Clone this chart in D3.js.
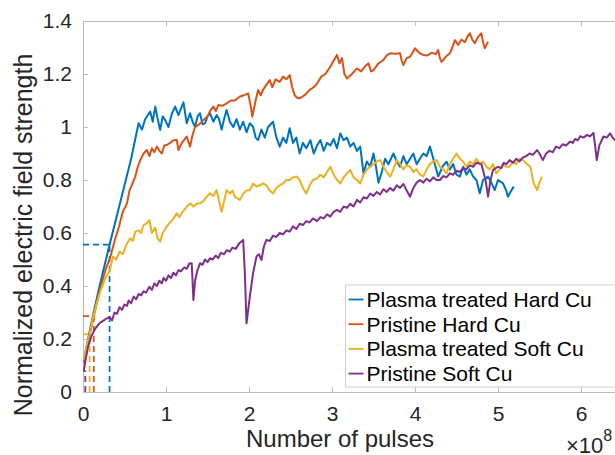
<!DOCTYPE html>
<html>
<head>
<meta charset="utf-8">
<script src="https://cdn.jsdelivr.net/npm/d3@7"></script>
<style>
  html, body { margin: 0; padding: 0; background: #fff; overflow: hidden; }
  text { font-family: "Liberation Sans", Arial, Helvetica, sans-serif; }
</style>
</head>
<body>
<svg id="chart"></svg>
<script>
// x in units of 1e8 pulses, y = normalized electric field strength
const plasmaHard = [[0.01,0.12],[0.1,0.26],[0.2,0.40],[0.32,0.556],[0.42,0.68],[0.5,0.78],[0.58,0.88],[0.64,0.97],[0.67,1.014],[0.71,0.99],[0.75,1.03],[0.81,1.058],[0.84,1.02],[0.87,1.077],[0.9,1.03],[0.93,0.989],[0.96,1.04],[0.99,1.026],[1.03,1.0],[1.07,1.05],[1.11,1.077],[1.15,1.045],[1.21,1.093],[1.25,1.014],[1.29,1.052],[1.32,1.02],[1.35,1.0],[1.38,1.04],[1.41,1.052],[1.44,1.01],[1.47,1.014],[1.5,1.04],[1.53,1.052],[1.57,1.02],[1.61,1.045],[1.64,1.03],[1.67,0.99],[1.7,1.03],[1.73,1.064],[1.77,1.02],[1.81,1.0],[1.85,1.03],[1.89,0.99],[1.93,1.02],[1.97,0.98],[2.01,1.014],[2.05,1.0],[2.08,0.96],[2.11,0.951],[2.15,0.99],[2.19,0.96],[2.23,1.0],[2.29,1.02],[2.33,0.96],[2.37,0.926],[2.41,0.96],[2.45,0.94],[2.49,0.995],[2.53,0.94],[2.57,0.96],[2.61,0.9],[2.65,0.94],[2.69,0.92],[2.74,0.95],[2.78,0.9],[2.82,0.93],[2.86,0.951],[2.9,0.91],[2.94,0.94],[2.98,0.93],[3.02,0.955],[3.06,0.92],[3.1,0.976],[3.14,0.95],[3.18,0.96],[3.22,0.926],[3.26,0.94],[3.3,0.91],[3.34,0.926],[3.38,0.825],[3.42,0.87],[3.46,0.85],[3.5,0.9],[3.53,0.85],[3.56,0.79],[3.6,0.83],[3.64,0.88],[3.68,0.86],[3.74,0.9],[3.78,0.87],[3.82,0.85],[3.86,0.89],[3.9,0.86],[3.94,0.88],[3.98,0.9],[4.02,0.86],[4.06,0.88],[4.1,0.9],[4.14,0.89],[4.18,0.926],[4.23,0.87],[4.28,0.813],[4.33,0.85],[4.38,0.869],[4.42,0.84],[4.46,0.86],[4.5,0.82],[4.54,0.813],[4.58,0.85],[4.62,0.82],[4.66,0.84],[4.7,0.813],[4.74,0.8],[4.78,0.75],[4.82,0.8],[4.88,0.813],[4.92,0.79],[4.96,0.762],[5.0,0.8],[5.06,0.787],[5.1,0.76],[5.12,0.737],[5.16,0.76],[5.19,0.775]];

const pristineHard = [[0.01,0.11],[0.07,0.2],[0.13,0.286],[0.2,0.38],[0.27,0.46],[0.33,0.51],[0.38,0.57],[0.43,0.62],[0.48,0.68],[0.53,0.712],[0.56,0.76],[0.6,0.79],[0.63,0.813],[0.66,0.85],[0.69,0.875],[0.73,0.9],[0.77,0.913],[0.8,0.89],[0.83,0.92],[0.86,0.905],[0.89,0.926],[0.92,0.91],[0.95,0.9],[0.98,0.93],[1.01,0.932],[1.05,0.94],[1.09,0.95],[1.13,0.951],[1.15,0.913],[1.19,0.94],[1.25,0.964],[1.29,0.926],[1.32,0.97],[1.35,1.0],[1.4,1.01],[1.45,1.026],[1.5,1.04],[1.53,1.06],[1.57,1.077],[1.6,1.06],[1.63,1.083],[1.68,1.08],[1.73,1.089],[1.78,1.1],[1.83,1.1],[1.89,1.115],[1.94,1.12],[1.99,1.127],[2.02,1.08],[2.04,1.039],[2.08,1.1],[2.11,1.14],[2.14,1.12],[2.17,1.14],[2.21,1.16],[2.25,1.177],[2.28,1.15],[2.32,1.18],[2.37,1.17],[2.41,1.19],[2.45,1.18],[2.49,1.196],[2.52,1.15],[2.55,1.12],[2.58,1.11],[2.61,1.108],[2.67,1.12],[2.73,1.14],[2.78,1.15],[2.82,1.164],[2.87,1.19],[2.92,1.2],[2.98,1.228],[3.02,1.25],[3.06,1.272],[3.09,1.24],[3.12,1.26],[3.15,1.2],[3.18,1.183],[3.24,1.2],[3.3,1.221],[3.35,1.21],[3.4,1.23],[3.44,1.24],[3.47,1.21],[3.5,1.215],[3.56,1.24],[3.62,1.253],[3.66,1.27],[3.7,1.278],[3.76,1.276],[3.82,1.278],[3.84,1.25],[3.86,1.234],[3.9,1.26],[3.94,1.265],[3.97,1.28],[4.0,1.297],[4.05,1.28],[4.1,1.272],[4.15,1.27],[4.2,1.28],[4.25,1.275],[4.28,1.29],[4.3,1.26],[4.32,1.246],[4.37,1.265],[4.42,1.278],[4.45,1.3],[4.48,1.328],[4.52,1.31],[4.56,1.33],[4.6,1.32],[4.63,1.34],[4.66,1.354],[4.69,1.33],[4.72,1.316],[4.76,1.34],[4.8,1.354],[4.82,1.32],[4.84,1.297],[4.86,1.31],[4.88,1.322]];

const plasmaSoft = [[0.01,0.12],[0.04,0.17],[0.08,0.218],[0.12,0.28],[0.17,0.34],[0.22,0.39],[0.27,0.43],[0.32,0.454],[0.36,0.51],[0.4,0.5],[0.44,0.53],[0.48,0.52],[0.53,0.561],[0.57,0.58],[0.6,0.57],[0.63,0.605],[0.67,0.61],[0.7,0.6],[0.73,0.63],[0.77,0.637],[0.8,0.649],[0.83,0.6],[0.87,0.62],[0.9,0.58],[0.93,0.567],[0.96,0.6],[1.0,0.62],[1.04,0.637],[1.08,0.65],[1.13,0.674],[1.16,0.66],[1.2,0.68],[1.25,0.699],[1.29,0.712],[1.33,0.7],[1.37,0.71],[1.41,0.712],[1.45,0.72],[1.49,0.737],[1.53,0.75],[1.57,0.74],[1.61,0.762],[1.64,0.72],[1.67,0.68],[1.7,0.72],[1.73,0.762],[1.77,0.749],[1.8,0.76],[1.83,0.737],[1.89,0.725],[1.93,0.749],[1.97,0.76],[2.01,0.762],[2.05,0.787],[2.09,0.775],[2.13,0.78],[2.17,0.787],[2.21,0.78],[2.25,0.76],[2.29,0.749],[2.33,0.77],[2.37,0.78],[2.41,0.787],[2.45,0.8],[2.49,0.8],[2.53,0.81],[2.57,0.813],[2.61,0.8],[2.65,0.77],[2.69,0.749],[2.73,0.78],[2.77,0.8],[2.82,0.806],[2.86,0.82],[2.9,0.81],[2.94,0.83],[2.98,0.85],[3.02,0.82],[3.06,0.8],[3.1,0.787],[3.14,0.81],[3.18,0.825],[3.22,0.838],[3.26,0.81],[3.3,0.8],[3.34,0.787],[3.38,0.82],[3.42,0.84],[3.46,0.85],[3.5,0.86],[3.54,0.87],[3.58,0.875],[3.62,0.85],[3.66,0.83],[3.7,0.813],[3.74,0.84],[3.78,0.875],[3.82,0.86],[3.86,0.84],[3.9,0.855],[3.94,0.85],[3.98,0.83],[4.02,0.84],[4.06,0.82],[4.1,0.813],[4.14,0.84],[4.18,0.86],[4.22,0.87],[4.26,0.875],[4.3,0.85],[4.34,0.84],[4.38,0.825],[4.42,0.86],[4.46,0.88],[4.5,0.9],[4.54,0.88],[4.58,0.87],[4.62,0.85],[4.66,0.87],[4.7,0.86],[4.74,0.88],[4.78,0.86],[4.82,0.87],[4.86,0.85],[4.9,0.84],[4.94,0.86],[4.98,0.825],[5.02,0.84],[5.06,0.86],[5.1,0.85],[5.14,0.85],[5.18,0.87],[5.22,0.86],[5.26,0.88],[5.3,0.875],[5.35,0.86],[5.39,0.85],[5.43,0.787],[5.47,0.762],[5.5,0.79],[5.53,0.813]];

const pristineSoft = [[0.01,0.08],[0.03,0.12],[0.06,0.17],[0.1,0.21],[0.15,0.24],[0.2,0.26],[0.25,0.27],[0.32,0.284],[0.35,0.27],[0.38,0.3],[0.41,0.295],[0.44,0.32],[0.47,0.31],[0.5,0.33],[0.53,0.325],[0.55,0.345],[0.58,0.335],[0.61,0.36],[0.64,0.35],[0.67,0.37],[0.7,0.365],[0.73,0.38],[0.76,0.375],[0.8,0.397],[0.83,0.385],[0.86,0.41],[0.89,0.4],[0.92,0.42],[0.95,0.41],[0.97,0.43],[1.0,0.42],[1.03,0.44],[1.06,0.43],[1.09,0.45],[1.12,0.44],[1.15,0.46],[1.18,0.455],[1.22,0.47],[1.25,0.465],[1.28,0.485],[1.31,0.486],[1.33,0.347],[1.35,0.42],[1.38,0.46],[1.41,0.486],[1.44,0.48],[1.47,0.5],[1.5,0.49],[1.53,0.505],[1.56,0.5],[1.6,0.515],[1.63,0.505],[1.66,0.525],[1.7,0.52],[1.73,0.535],[1.77,0.53],[1.8,0.545],[1.84,0.54],[1.88,0.56],[1.93,0.574],[1.95,0.45],[1.97,0.259],[2.01,0.36],[2.05,0.45],[2.09,0.511],[2.12,0.52],[2.15,0.498],[2.18,0.55],[2.21,0.574],[2.25,0.57],[2.29,0.59],[2.33,0.585],[2.37,0.6],[2.41,0.595],[2.45,0.61],[2.49,0.605],[2.53,0.625],[2.57,0.615],[2.61,0.635],[2.65,0.63],[2.69,0.645],[2.73,0.64],[2.77,0.655],[2.82,0.645],[2.86,0.66],[2.9,0.655],[2.94,0.67],[2.98,0.662],[3.02,0.68],[3.06,0.687],[3.1,0.68],[3.14,0.7],[3.18,0.695],[3.22,0.71],[3.26,0.7],[3.3,0.725],[3.34,0.715],[3.38,0.735],[3.42,0.73],[3.46,0.749],[3.5,0.74],[3.54,0.755],[3.58,0.745],[3.62,0.765],[3.66,0.755],[3.7,0.77],[3.74,0.76],[3.78,0.78],[3.82,0.77],[3.86,0.785],[3.9,0.76],[3.94,0.737],[3.98,0.77],[4.02,0.79],[4.06,0.8],[4.1,0.79],[4.14,0.805],[4.18,0.795],[4.22,0.81],[4.26,0.8],[4.3,0.8],[4.34,0.815],[4.38,0.81],[4.42,0.825],[4.46,0.82],[4.5,0.835],[4.54,0.83],[4.58,0.845],[4.62,0.84],[4.66,0.855],[4.7,0.85],[4.74,0.865],[4.8,0.86],[4.85,0.8],[4.88,0.737],[4.91,0.8],[4.94,0.838],[5.0,0.85],[5.04,0.845],[5.07,0.865],[5.1,0.86],[5.14,0.875],[5.18,0.865],[5.22,0.88],[5.26,0.87],[5.3,0.885],[5.34,0.89],[5.38,0.9],[5.42,0.895],[5.47,0.913],[5.5,0.9],[5.54,0.875],[5.58,0.9],[5.62,0.91],[5.66,0.905],[5.7,0.926],[5.74,0.92],[5.78,0.935],[5.82,0.93],[5.87,0.945],[5.9,0.94],[5.93,0.955],[5.96,0.95],[5.99,0.965],[6.03,0.96],[6.07,0.97],[6.11,0.965],[6.15,0.978],[6.17,0.93],[6.19,0.875],[6.22,0.93],[6.27,0.964],[6.31,0.96],[6.35,0.976],[6.38,0.96],[6.41,0.951],[6.45,0.97]];

const seriesNames = ["Plasma treated Hard Cu", "Pristine Hard Cu", "Plasma treated Soft Cu", "Pristine Soft Cu"];
const seriesData = [plasmaHard, pristineHard, plasmaSoft, pristineSoft];
const colors = ["#0072BD", "#D95319", "#EDB120", "#7E2F8E"];

// dashed marker lines (x in 1e8 pulses, y level)
const markX = [0.32, 0.13, 0.08, 0.028];
const markY = [0.556, 0.286, 0.218, 0.08];

const xTicks = [0, 1, 2, 3, 4, 5, 6];
const yTicks = [0, 0.2, 0.4, 0.6, 0.8, 1, 1.2, 1.4];

const width = 615;
const height = 455;
const margin = { top: 21, left: 83, bottom: 63 };
const innerHeight = height - margin.top - margin.bottom;

const svg = d3.select("#chart")
  .attr("width", width)
  .attr("height", height);

const x = d3.scaleLinear().domain([0, 6.5]).range([0, 6.5 * 83]);
const y = d3.scaleLinear().domain([0, 1.4]).range([innerHeight, 0]);

const g = svg.append("g")
  .attr("transform", `translate(${margin.left},${margin.top})`);

const axisColor = "#bcbcbc";
const textColor = "#262626";

const xAxis = g.append("g")
  .attr("transform", `translate(0,${innerHeight})`)
  .call(d3.axisBottom(x).tickValues(xTicks).tickSize(-5).tickSizeOuter(0).tickPadding(14).tickFormat(d3.format("d")));

// top edge of the box, ticks only
const xTop = g.append("g")
  .call(d3.axisTop(x).tickValues(xTicks).tickSize(-5).tickSizeOuter(0).tickFormat(""));
xTop.selectAll(".tick text").remove();

const yAxis = g.append("g")
  .call(d3.axisLeft(y).tickValues(yTicks).tickSize(-5).tickSizeOuter(0).tickPadding(11).tickFormat(d => d3.format("~g")(d)));

[xAxis, xTop, yAxis].forEach(a => {
  a.select(".domain").attr("stroke", axisColor);
  a.selectAll(".tick line").attr("stroke", axisColor);
  a.selectAll(".tick text").attr("fill", textColor).style("font-size", "21px");
});

// dashed markers
markX.forEach((mx, i) => {
  g.append("line")
    .attr("x1", x(0)).attr("x2", x(mx))
    .attr("y1", y(markY[i])).attr("y2", y(markY[i]))
    .attr("stroke", colors[i]).attr("stroke-width", 1.7).attr("stroke-dasharray", "6,4");
  g.append("line")
    .attr("x1", x(mx)).attr("x2", x(mx))
    .attr("y1", y(0)).attr("y2", y(markY[i]))
    .attr("stroke", colors[i]).attr("stroke-width", 1.7).attr("stroke-dasharray", "6,4");
});

const line = d3.line()
  .x(d => x(d[0]))
  .y(d => y(d[1]));

seriesData.forEach((data, i) => {
  g.append("path")
    .datum(data)
    .attr("fill", "none")
    .attr("stroke", colors[i])
    .attr("stroke-width", 2)
    .attr("stroke-linejoin", "round")
    .attr("d", line);
});

// labels
svg.append("text")
  .attr("x", 340).attr("y", 447)
  .attr("text-anchor", "middle")
  .attr("fill", textColor)
  .style("font-size", "24px")
  .text("Number of pulses");

svg.append("text")
  .attr("transform", "translate(32,235) rotate(-90)")
  .attr("text-anchor", "middle")
  .attr("fill", textColor)
  .style("font-size", "25px")
  .text("Normalized electric field strength");

const expo = svg.append("text")
  .attr("x", 566).attr("y", 453)
  .attr("fill", textColor)
  .style("font-size", "22px");
expo.append("tspan").text("\u00d710");
expo.append("tspan").attr("dy", -12).style("font-size", "16px").text("8");

// legend
const legend = svg.append("g").attr("transform", "translate(345.5,285)");
legend.append("rect")
  .attr("width", 300).attr("height", 102)
  .attr("fill", "#fff").attr("stroke", "#cfcfcf");

seriesNames.forEach((name, i) => {
  const cy = 14.5 + i * 24.7;
  legend.append("line")
    .attr("x1", 3).attr("x2", 18).attr("y1", cy).attr("y2", cy)
    .attr("stroke", colors[i]).attr("stroke-width", 1.8);
  legend.append("text")
    .attr("x", 21).attr("y", cy)
    .attr("dy", "0.36em")
    .attr("fill", "#000")
    .style("font-size", "21px")
    .text(name);
});
</script>
</body>
</html>
